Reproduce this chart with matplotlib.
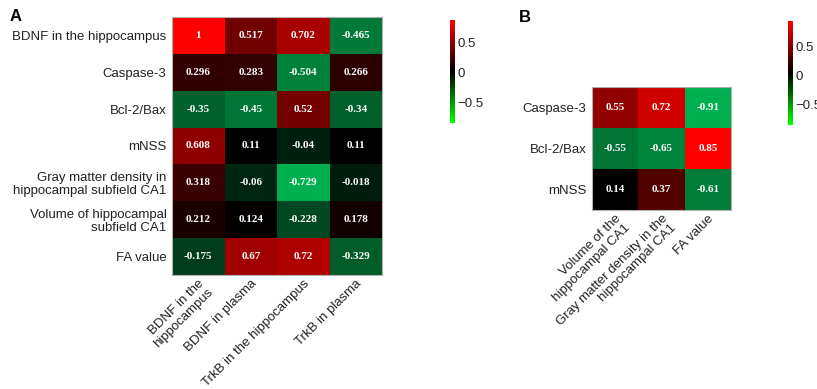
import numpy as np
import matplotlib
matplotlib.use("Agg")
import matplotlib.pyplot as plt
from matplotlib.colors import LinearSegmentedColormap, TwoSlopeNorm, Normalize
from matplotlib.cm import ScalarMappable

# ---- data ----
rows_a = ["BDNF in the hippocampus", "Caspase-3", "Bcl-2/Bax", "mNSS",
          "Gray matter density in\nhippocampal subfield CA1",
          "Volume of hippocampal\nsubfield CA1", "FA value"]
cols_a = ["BDNF in the\nhippocampus", "BDNF in plasma",
          "TrkB in the hippocampus", "TrkB in plasma"]
vals_a = [
    [1, 0.517, 0.702, -0.465],
    [0.296, 0.283, -0.504, 0.266],
    [-0.35, -0.45, 0.52, -0.34],
    [0.608, 0.11, -0.04, 0.11],
    [0.318, -0.06, -0.729, -0.018],
    [0.212, 0.124, -0.228, 0.178],
    [-0.175, 0.67, 0.72, -0.329],
]
labels_a = [
    ["1", "0.517", "0.702", "-0.465"],
    ["0.296", "0.283", "-0.504", "0.266"],
    ["-0.35", "-0.45", "0.52", "-0.34"],
    ["0.608", "0.11", "-0.04", "0.11"],
    ["0.318", "-0.06", "-0.729", "-0.018"],
    ["0.212", "0.124", "-0.228", "0.178"],
    ["-0.175", "0.67", "0.72", "-0.329"],
]

rows_b = ["Caspase-3", "Bcl-2/Bax", "mNSS"]
cols_b = ["Volume of the\nhippocampal CA1",
          "Gray matter density in the\nhippocampal CA1", "FA value"]
vals_b = [
    [0.55, 0.72, -0.91],
    [-0.55, -0.65, 0.85],
    [0.14, 0.37, -0.61],
]
labels_b = [
    ["0.55", "0.72", "-0.91"],
    ["-0.55", "-0.65", "0.85"],
    ["0.14", "0.37", "-0.61"],
]

cbar_a_range = (-0.85, 0.87)
cbar_b_range = (-0.85, 0.94)
cbar_ticks = [-0.5, 0, 0.5]
cbar_ticklabels = ["\u22120.5", "0", "0.5"]

# ---- styling ----
plt.rcParams['font.family'] = ['Liberation Sans', 'DejaVu Sans']
cell_cmap = LinearSegmentedColormap.from_list("cell", ["#00B050", "#000000", "#FF0000"])
bar_cmap = LinearSegmentedColormap.from_list("bar", ["#00FF00", "#000000", "#FF0000"])

W, H = 817, 389
fig = plt.figure(figsize=(W / 100, H / 100), dpi=100)


def px_axes(left, top, right, bottom):
    return fig.add_axes([left / W, 1 - bottom / H, (right - left) / W, (bottom - top) / H])


def heat(ax, vals, labels, rows, cols):
    arr = np.array(vals, dtype=float)
    norm = TwoSlopeNorm(vmin=arr.min(), vcenter=np.median(arr), vmax=arr.max())
    ax.pcolormesh(np.arange(arr.shape[1] + 1), np.arange(arr.shape[0] + 1), arr,
                  cmap=cell_cmap, norm=norm)
    ax.set_xlim(0, arr.shape[1])
    ax.set_ylim(arr.shape[0], 0)
    for i in range(arr.shape[0]):
        for j in range(arr.shape[1]):
            ax.text(j + 0.5, i + 0.5, labels[i][j], ha='center', va='center',
                    color='white', fontsize=8, fontweight='bold',
                    family='Liberation Serif')
    ax.set_yticks(np.arange(arr.shape[0]) + 0.5)
    ax.set_yticklabels(rows, fontsize=9.5, multialignment='right', color='#222222',
                       linespacing=1.1)
    ax.set_xticks(np.arange(arr.shape[1]) + 0.5)
    ax.set_xticklabels(cols, fontsize=9.5, rotation=45, ha='right', va='top',
                       rotation_mode='anchor', multialignment='right', color='#222222',
                       linespacing=1.05)
    ax.tick_params(axis='y', length=0, pad=4)
    ax.tick_params(axis='x', length=0, pad=2)
    for s in ax.spines.values():
        s.set_color('#b0b0b0')
        s.set_linewidth(0.8)


def cbar(cax, rng):
    sm = ScalarMappable(norm=Normalize(*rng), cmap=bar_cmap)
    cb = fig.colorbar(sm, cax=cax, ticks=cbar_ticks)
    cb.set_ticklabels(cbar_ticklabels)
    cb.outline.set_visible(False)
    cb.ax.tick_params(length=0, pad=2, labelsize=9.5, labelcolor='#222222')


ax_a = px_axes(172, 17, 382, 275)
heat(ax_a, vals_a, labels_a, rows_a, cols_a)
cbar(px_axes(450, 20, 455, 123), cbar_a_range)

ax_b = px_axes(592, 87, 731, 210)
heat(ax_b, vals_b, labels_b, rows_b, cols_b)
cbar(px_axes(788, 21, 793, 125), cbar_b_range)

fig.text(10 / W, 1 - 21 / H, "A", fontsize=12, fontweight='bold', va='baseline')
fig.text(519 / W, 1 - 22 / H, "B", fontsize=12, fontweight='bold', va='baseline')

fig.savefig("out.png", dpi=100)
